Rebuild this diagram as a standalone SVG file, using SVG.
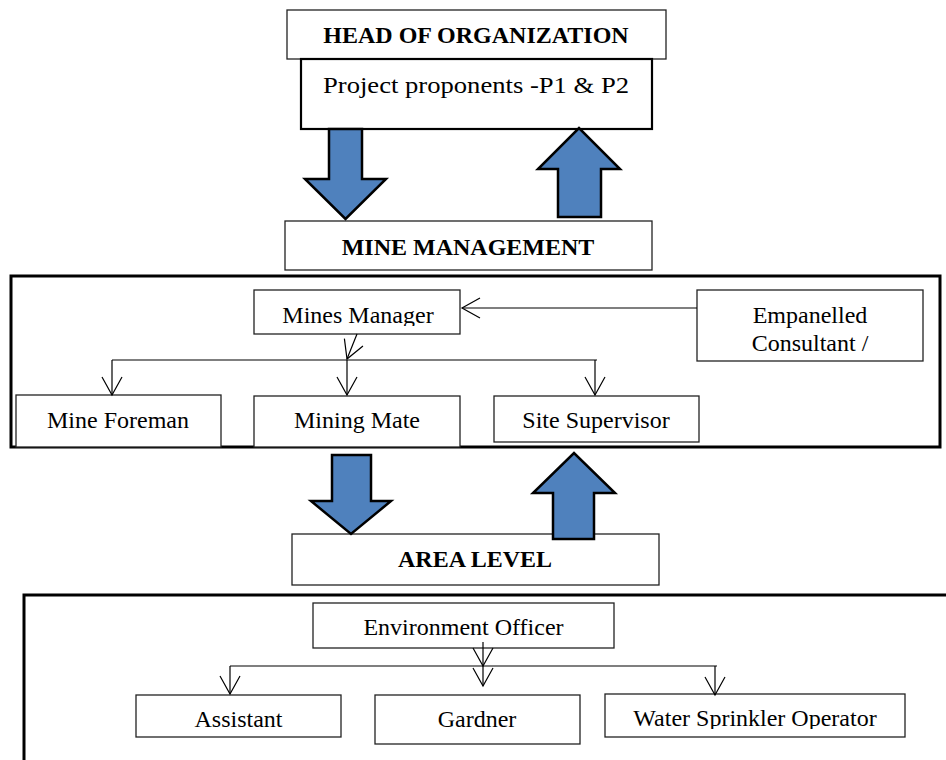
<svg xmlns="http://www.w3.org/2000/svg" width="946" height="760" viewBox="0 0 946 760">
<style>
text{font-family:"Liberation Serif","Times New Roman",serif;font-size:24px;fill:#000;text-anchor:middle}
.b{font-weight:bold}
.node{fill:#fff;stroke:#222;stroke-width:1.3}
.frame{fill:none;stroke:#000;stroke-width:3}
.big{fill:#4F81BD;stroke:#000;stroke-width:2.5;stroke-linejoin:miter}
.con{fill:none;stroke:#000;stroke-width:1.2}
</style>
<defs>
<marker id="chev" markerUnits="userSpaceOnUse" markerWidth="24" markerHeight="24" viewBox="-20 -12 22 24" refX="0" refY="0" orient="auto" overflow="visible">
<path d="M-18,-10 L0,0 L-18,10" fill="none" stroke="#000" stroke-width="1.2"/>
</marker>
<clipPath id="clipMM"><rect x="254" y="290" width="206" height="36"/></clipPath>
<clipPath id="clipWS"><rect x="605" y="694" width="300" height="35"/></clipPath>
</defs>
<rect width="946" height="760" fill="#fff"/>

<g id="frames">
<rect class="frame" x="11" y="276" width="929" height="171"/>
<path class="frame" d="M946,595 H24 V762"/>
</g>

<g id="head">
<rect class="node" x="287" y="10" width="379" height="49"/>
<text class="b" x="476" y="43">HEAD OF ORGANIZATION</text>
</g>
<g id="proponents">
<rect x="301" y="59" width="351" height="70" fill="#fff" stroke="#000" stroke-width="2.2"/>
<text x="476" y="93" font-size="27" textLength="306" lengthAdjust="spacingAndGlyphs">Project proponents -P1 &amp; P2</text>
</g>
<g id="mine-management">
<rect class="node" x="285" y="221" width="367" height="49"/>
<text class="b" x="468" y="255">MINE MANAGEMENT</text>
</g>
<g id="mines-manager">
<rect class="node" x="254" y="290" width="206" height="44"/>
<text x="358" y="323" clip-path="url(#clipMM)">Mines Manager</text>
</g>
<g id="empanelled">
<rect class="node" x="697" y="290" width="226" height="71"/>
<text x="810" y="323">Empanelled</text>
<text x="810" y="351">Consultant /</text>
</g>
<g id="mine-foreman">
<rect class="node" x="16" y="395" width="205" height="52"/>
<text x="118" y="428">Mine Foreman</text>
</g>
<g id="mining-mate">
<rect class="node" x="254" y="396" width="206" height="51"/>
<text x="357" y="428">Mining Mate</text>
</g>
<g id="site-supervisor">
<rect class="node" x="494" y="396" width="205" height="46"/>
<text x="596" y="428">Site Supervisor</text>
</g>
<g id="area-level">
<rect class="node" x="292" y="534" width="367" height="51"/>
<text class="b" x="475" y="567">AREA LEVEL</text>
</g>
<g id="environment-officer">
<rect class="node" x="313" y="603" width="301" height="45"/>
<text x="463.5" y="635">Environment Officer</text>
</g>
<g id="assistant">
<rect class="node" x="136" y="695" width="205" height="42"/>
<text x="238.5" y="727">Assistant</text>
</g>
<g id="gardner">
<rect class="node" x="375" y="695" width="205" height="49"/>
<text x="477" y="727">Gardner</text>
</g>
<g id="water-sprinkler">
<rect class="node" x="605" y="694" width="300" height="43"/>
<text x="755" y="726" clip-path="url(#clipWS)">Water Sprinkler Operator</text>
</g>

<g id="connectors">
<path class="big" d="M329,129 H362 V179 H386 L345.5,219 L305,179 H329 Z"/>
<path class="big" d="M558,217 V169 H538 L579,128 L620,169 H601 V217 Z"/>
<path class="big" d="M332,455 H371 V501 H391 L351,534 L311,501 H332 Z"/>
<path class="big" d="M553,539 V493 H533 L574,453 L615,493 H594 V539 Z"/>

<line class="con" x1="697" y1="308" x2="462" y2="308" marker-end="url(#chev)"/>
<line class="con" x1="357" y1="334" x2="347" y2="359" marker-end="url(#chev)"/>
<line class="con" x1="112" y1="360" x2="597" y2="360"/>
<line class="con" x1="112" y1="360" x2="112" y2="395" marker-end="url(#chev)"/>
<line class="con" x1="347" y1="360" x2="347" y2="395" marker-end="url(#chev)"/>
<line class="con" x1="595" y1="360" x2="595" y2="395" marker-end="url(#chev)"/>

<line class="con" x1="483" y1="642" x2="483" y2="666" marker-end="url(#chev)"/>
<line class="con" x1="230" y1="666" x2="717" y2="666"/>
<line class="con" x1="230" y1="666" x2="230" y2="694" marker-end="url(#chev)"/>
<line class="con" x1="483" y1="666" x2="483" y2="686" marker-end="url(#chev)"/>
<line class="con" x1="715" y1="666" x2="715" y2="695" marker-end="url(#chev)"/>
</g>
</svg>
